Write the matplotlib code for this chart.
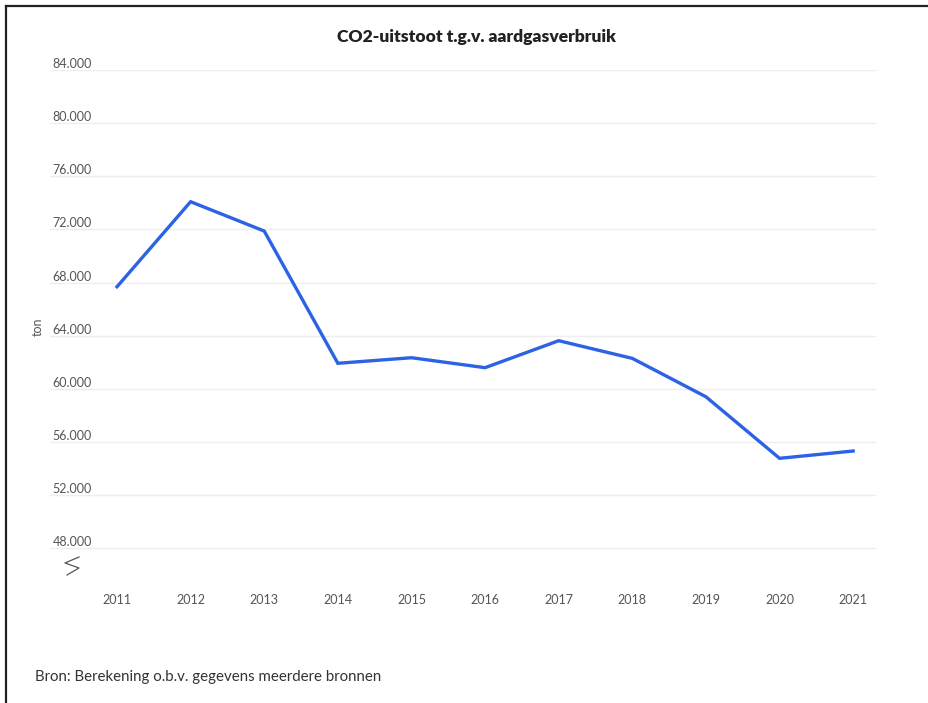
import matplotlib.pyplot as plt
from matplotlib.lines import Line2D

# data
years = [2011, 2012, 2013, 2014, 2015, 2016, 2017, 2018, 2019, 2020, 2021]
co2_ton = [67690, 74090, 71880, 61930, 62350, 61600, 63630, 62300, 59410, 54780, 55330]
y_ticks = [48000, 52000, 56000, 60000, 64000, 68000, 72000, 76000, 80000, 84000]
y_tick_labels = ["48.000", "52.000", "56.000", "60.000", "64.000",
                 "68.000", "72.000", "76.000", "80.000", "84.000"]

W, H = 929, 703
plt.rcParams['font.family'] = ['Lato', 'DejaVu Sans']

fig = plt.figure(figsize=(W / 100, H / 100), dpi=100)
fig.patch.set_facecolor('white')

# plot area in pixels: left 50, right 876, top 70, bottom 575
left, right, top, bottom = 50, 876, 70, 575
ax = fig.add_axes([left / W, 1 - bottom / H, (right - left) / W, (bottom - top) / H])

ax.plot(years, co2_ton, color='#2b62e6', linewidth=2.4, solid_joinstyle='miter')

ax.set_xlim(2010.09, 2021.31)
ax.set_ylim(46000, 84000)

ax.set_yticks(y_ticks)
ax.set_yticklabels(y_tick_labels)
ax.set_xticks(years)
ax.set_xticklabels([str(y) for y in years])

ax.grid(axis='y', color='#eeeeee', linewidth=1)
ax.grid(axis='x', visible=False)
ax.set_axisbelow(True)
for s in ax.spines.values():
    s.set_visible(False)

ax.tick_params(axis='x', length=0, pad=14, labelsize=9, labelcolor='#555555')
ax.tick_params(axis='y', length=0, pad=-2, labelsize=9, labelcolor='#555555')
for lab in ax.get_yticklabels():
    lab.set_horizontalalignment('left')
    lab.set_verticalalignment('bottom')

ax.set_ylabel('ton', fontsize=9, color='#555555')
ax.yaxis.set_label_coords(-0.008, 0.491)

# axis break marker
zz_x = [79, 65, 79, 67]
zz_y = [557, 563, 568, 575]
fig.add_artist(Line2D([x / W for x in zz_x], [1 - y / H for y in zz_y],
                      color='#555555', linewidth=0.9))

fig.text(476 / W, 1 - 37 / H, 'CO2-uitstoot t.g.v. aardgasverbruik',
         ha='center', va='center', fontsize=12.6, fontweight='heavy', color='#222222')
fig.text(35 / W, 1 - 677 / H, 'Bron: Berekening o.b.v. gegevens meerdere bronnen',
         ha='left', va='center', fontsize=10.8, color='#333333')

# frame of the screenshot (left and top edges)
fig.add_artist(Line2D([6 / W, 1], [1 - 6 / H, 1 - 6 / H], color='#222222', linewidth=1.6))
fig.add_artist(Line2D([6 / W, 6 / W], [0, 1 - 6 / H], color='#222222', linewidth=1.6))

fig.savefig('out.png', dpi=100)
